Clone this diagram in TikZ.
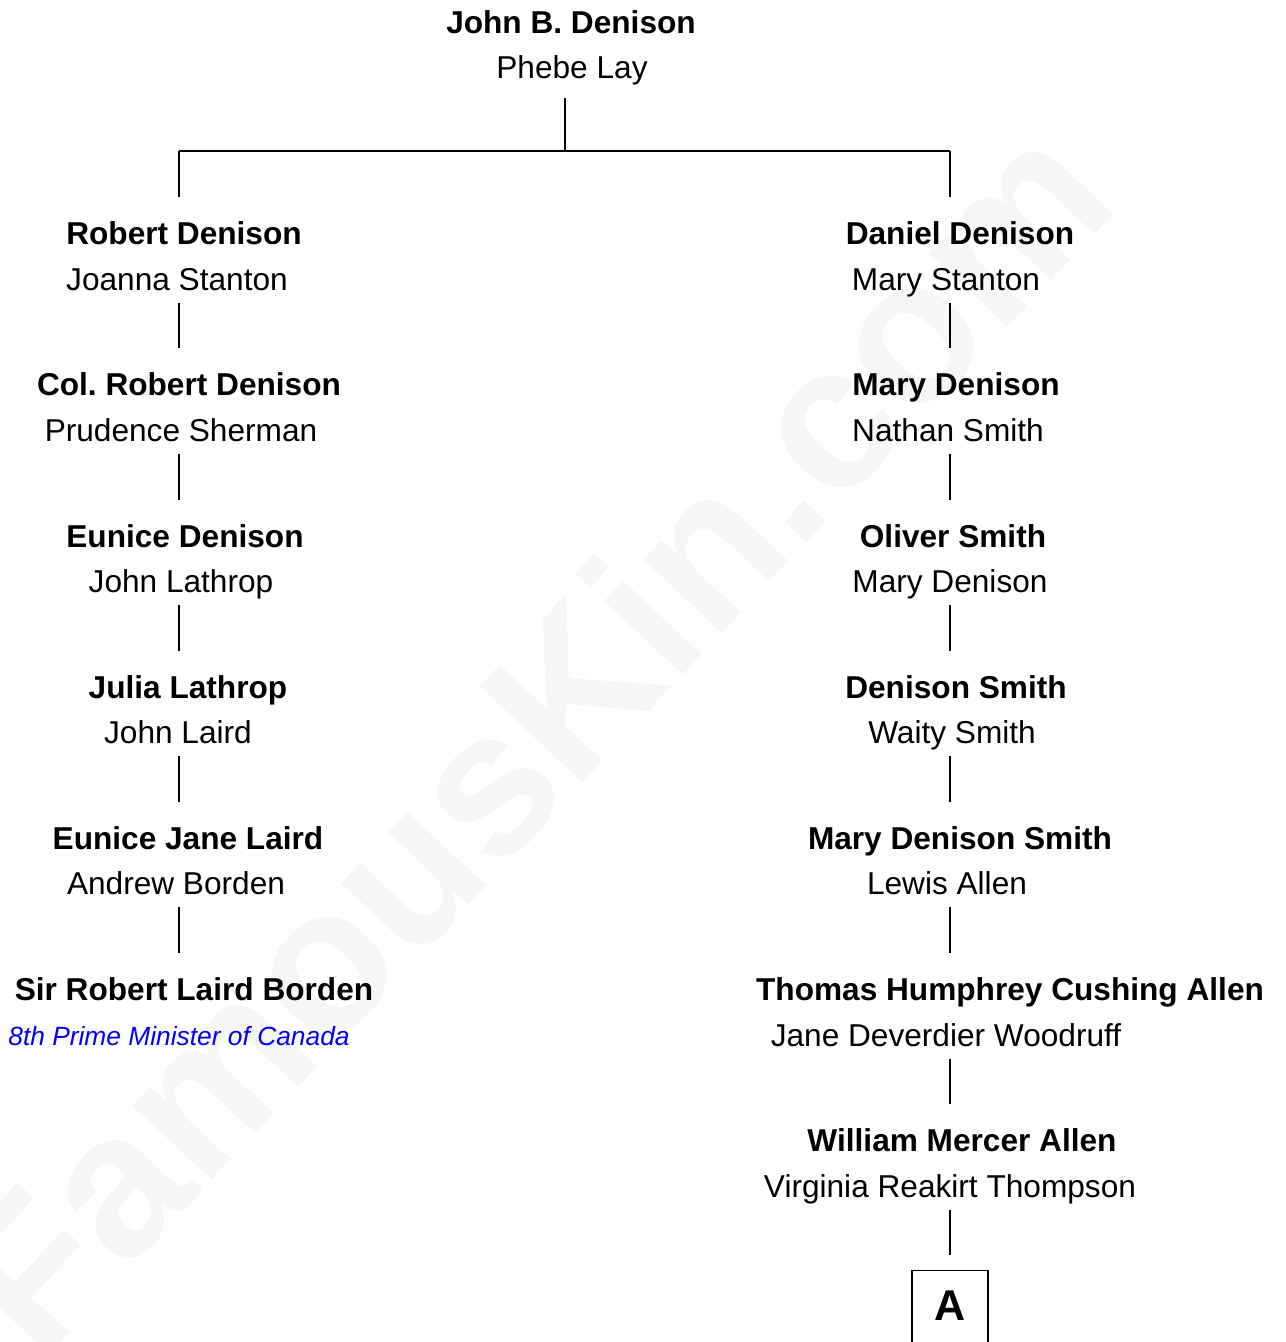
\documentclass[tikz,border=0pt]{standalone}
\usepackage{fontspec}
\setmainfont{Liberation Sans}
\usepackage{xcolor}
\usepackage{tikz}
\usetikzlibrary{positioning,calc}
\frenchspacing

\definecolor{wmgray}{HTML}{F6F6F6}

\tikzset{
    pname/.style={font=\fontsize{18}{22}\selectfont\bfseries, anchor=base, inner sep=0, text height=0.46cm, text depth=0.14cm},
    pspouse/.style={font=\fontsize{18}{22}\selectfont, anchor=base, inner sep=0, text height=0.46cm, text depth=0.14cm},
    pnote/.style={font=\fontsize{15}{18}\selectfont\itshape, text=blue, anchor=base, inner sep=0},
    link/.style={line width=0.8pt, shorten <=0.12cm, shorten >=0.48cm},
    wmark/.style={font=\fontsize{116}{120}\selectfont\bfseries, text=wmgray, rotate=47, inner sep=0}
}

\begin{document}
\begin{tikzpicture}[x=0.02cm, y=-0.02cm]
    \useasboundingbox (0,0) rectangle (1285,1342);

    % Watermark
    \node[wmark] (wm) at (528,735) {FamousKin.com};

    % Top couple
    \node[pname]   (jbd) at (571,33) {John B. Denison};
    \node[pspouse] (pl)  at (572,78) {Phebe Lay};

    \coordinate (fork) at (565,151);
    \coordinate (lx) at (179,0);
    \coordinate (rx) at (950,0);

    % Left line
    \node[pname]   (rd)   at (184,244) {Robert Denison};
    \node[pspouse] (js)   at (177,290) {Joanna Stanton};
    \node[pname]   (crd)  at (189,395) {Col. Robert Denison};
    \node[pspouse] (ps)   at (181,441) {Prudence Sherman};
    \node[pname]   (ed)   at (185,547) {Eunice Denison};
    \node[pspouse] (jl)   at (181,592) {John Lathrop};
    \node[pname]   (jul)  at (188,698) {Julia Lathrop};
    \node[pspouse] (jla)  at (178,743) {John Laird};
    \node[pname]   (ejl)  at (188,849) {Eunice Jane Laird};
    \node[pspouse] (ab)   at (176,894) {Andrew Borden};
    \node[pname]   (srlb) at (194,1000) {Sir Robert Laird Borden};
    \node[pnote]   (pm)   at (179,1045) {8th Prime Minister of Canada};

    % Right line
    \node[pname]   (dd)   at (960,244) {Daniel Denison};
    \node[pspouse] (ms)   at (946,290) {Mary Stanton};
    \node[pname]   (md)   at (956,395) {Mary Denison};
    \node[pspouse] (ns)   at (948,441) {Nathan Smith};
    \node[pname]   (os)   at (953,547) {Oliver Smith};
    \node[pspouse] (mdw)  at (950,592) {Mary Denison};
    \node[pname]   (ds)   at (956,698) {Denison Smith};
    \node[pspouse] (ws)   at (952,743) {Waity Smith};
    \node[pname]   (mds)  at (960,849) {Mary Denison Smith};
    \node[pspouse] (la)   at (947,894) {Lewis Allen};
    \node[pname]   (thca) at (1010,1000) {Thomas Humphrey Cushing Allen};
    \node[pspouse] (jdw)  at (946,1046) {Jane Deverdier Woodruff};
    \node[pname]   (wma)  at (962,1151) {William Mercer Allen};
    \node[pspouse] (vrt)  at (950,1197) {Virginia Reakirt Thompson};
    \node[draw, line width=0.8pt, anchor=north, minimum width=1.52cm, inner xsep=0, inner ysep=0.38cm,
          text height=0.62cm, text depth=0.8cm, font=\fontsize{24.5}{28}\selectfont\bfseries]
          (boxa) at (950,1270) {A};

    % Fork
    \draw[line width=0.8pt, shorten <=0.26cm] (pl.south -| fork) -- (fork);
    \draw[line width=0.8pt] (lx |- fork) -- (rx |- fork);
    \draw[link, shorten <=0] (lx |- fork) -- (rd.north -| lx);
    \draw[link, shorten <=0] (rx |- fork) -- (dd.north -| rx);

    % Left connectors
    \draw[link] (js.south -| lx)  -- (crd.north -| lx);
    \draw[link] (ps.south -| lx)  -- (ed.north -| lx);
    \draw[link] (jl.south -| lx)  -- (jul.north -| lx);
    \draw[link] (jla.south -| lx) -- (ejl.north -| lx);
    \draw[link] (ab.south -| lx)  -- (srlb.north -| lx);

    % Right connectors
    \draw[link] (ms.south -| rx)  -- (md.north -| rx);
    \draw[link] (ns.south -| rx)  -- (os.north -| rx);
    \draw[link] (mdw.south -| rx) -- (ds.north -| rx);
    \draw[link] (ws.south -| rx)  -- (mds.north -| rx);
    \draw[link] (la.south -| rx)  -- (thca.north -| rx);
    \draw[link] (jdw.south -| rx) -- (wma.north -| rx);
    \draw[link, shorten >=0.3cm] (vrt.south -| rx) -- (boxa.north);
\end{tikzpicture}
\end{document}
